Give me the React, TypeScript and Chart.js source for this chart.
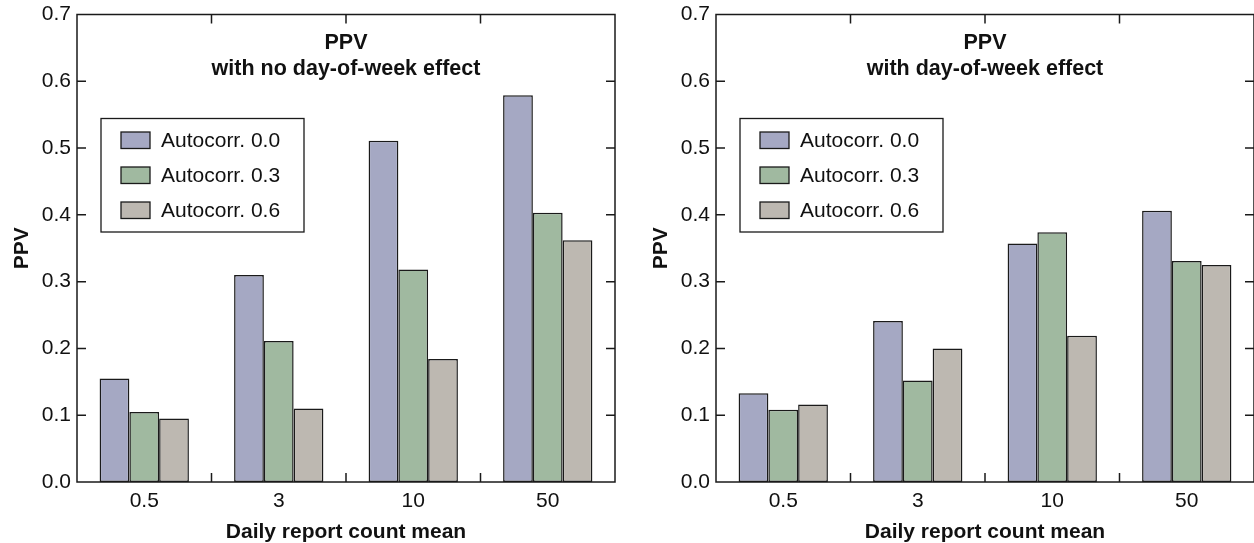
import React, { useEffect, useRef } from "react";
import { Chart, registerables } from "chart.js";

Chart.register(...registerables);

const categories = ["0.5", "3", "10", "50"];
const seriesLabels = ["Autocorr. 0.0", "Autocorr. 0.3", "Autocorr. 0.6"];
const seriesColors = ["#a5a8c3", "#a0b9a0", "#bdb8b1"];

const noDowAc00 = [0.155, 0.31, 0.511, 0.579];
const noDowAc03 = [0.105, 0.211, 0.318, 0.403];
const noDowAc06 = [0.095, 0.11, 0.184, 0.362];

const dowAc00 = [0.133, 0.241, 0.357, 0.406];
const dowAc03 = [0.108, 0.152, 0.374, 0.331];
const dowAc06 = [0.116, 0.2, 0.219, 0.325];

const yTickValues = [0, 0.1, 0.2, 0.3, 0.4, 0.5, 0.6, 0.7];

const titleLeft = ["PPV", "with no day-of-week effect"];
const titleRight = ["PPV", "with day-of-week effect"];

const FONT = "'Liberation Sans', Arial, Helvetica, sans-serif";
const INK = "#111111";

const framePlugin = {
  id: "frameTicks",
  afterDraw(chart: any) {
    const { ctx, chartArea } = chart;
    const { left, right, top, bottom } = chartArea;
    const ys = chart.scales.y;
    const xs = chart.scales.x;
    ctx.save();
    ctx.strokeStyle = "#1a1a1a";
    ctx.lineWidth = 1.5;
    ctx.strokeRect(left, top, right - left, bottom - top);
    const tl = 9;
    ctx.beginPath();
    yTickValues.slice(1, -1).forEach((v) => {
      const y = ys.getPixelForValue(v);
      ctx.moveTo(left, y);
      ctx.lineTo(left + tl, y);
      ctx.moveTo(right, y);
      ctx.lineTo(right - tl, y);
    });
    for (let i = 1; i < categories.length; i++) {
      const x = (xs.getPixelForValue(i - 1) + xs.getPixelForValue(i)) / 2;
      ctx.moveTo(x, top);
      ctx.lineTo(x, top + tl);
      ctx.moveTo(x, bottom);
      ctx.lineTo(x, bottom - tl);
    }
    ctx.stroke();
    ctx.restore();
  },
};

const innerTitlePlugin = {
  id: "innerTitle",
  afterDraw(chart: any, _args: any, opts: any) {
    const { ctx, chartArea } = chart;
    const cx = (chartArea.left + chartArea.right) / 2;
    const lines: string[] = opts.lines || [];
    ctx.save();
    ctx.fillStyle = INK;
    ctx.font = `bold 21.5px ${FONT}`;
    ctx.textAlign = "center";
    ctx.textBaseline = "middle";
    lines.forEach((t, i) => {
      ctx.fillText(t, cx, chartArea.top + 29 + i * 26);
    });
    ctx.restore();
  },
};

const innerLegendPlugin = {
  id: "innerLegend",
  afterDraw(chart: any) {
    const { ctx, chartArea } = chart;
    const bx = chartArea.left + 24;
    const by = chartArea.top + 104;
    const bw = 203;
    const bh = 113.5;
    ctx.save();
    ctx.fillStyle = "#ffffff";
    ctx.fillRect(bx, by, bw, bh);
    ctx.strokeStyle = "#1a1a1a";
    ctx.lineWidth = 1.3;
    ctx.strokeRect(bx, by, bw, bh);
    ctx.font = `21px ${FONT}`;
    ctx.textAlign = "left";
    ctx.textBaseline = "middle";
    chart.data.datasets.forEach((ds: any, i: number) => {
      const sy = by + 13.5 + i * 35;
      ctx.fillStyle = ds.backgroundColor;
      ctx.fillRect(bx + 20, sy, 29, 16.5);
      ctx.strokeStyle = "#1a1a1a";
      ctx.lineWidth = 1.3;
      ctx.strokeRect(bx + 20, sy, 29, 16.5);
      ctx.fillStyle = INK;
      ctx.fillText(ds.label, bx + 60, sy + 9);
    });
    ctx.restore();
  },
};

function PanelChart(props: {
  series: number[][];
  title: string[];
  padLeft: number;
  padRight: number;
}) {
  const ref = useRef<HTMLCanvasElement | null>(null);
  useEffect(() => {
    if (!ref.current) return;
    const chart = new Chart(ref.current, {
      type: "bar",
      data: {
        labels: categories,
        datasets: props.series.map((vals, i) => ({
          label: seriesLabels[i],
          data: vals,
          backgroundColor: seriesColors[i],
          borderColor: "#1a1a1a",
          borderWidth: 1.5,
          borderSkipped: false,
          categoryPercentage: 0.664,
          barPercentage: 1.0,
        })),
      },
      options: {
        responsive: false,
        maintainAspectRatio: false,
        animation: false,
        layout: {
          padding: { left: props.padLeft, right: props.padRight, top: 14.5, bottom: 0 },
        },
        plugins: {
          legend: { display: false },
          title: { display: false },
          tooltip: { enabled: false },
          innerTitle: { lines: props.title },
        } as any,
        scales: {
          x: {
            grid: { display: false, drawTicks: false },
            border: { display: false },
            ticks: {
              color: INK,
              font: { family: FONT, size: 21 },
              padding: 7,
            },
            title: {
              display: true,
              text: "Daily report count mean",
              color: INK,
              font: { family: FONT, size: 21, weight: "bold" },
              padding: { top: 0, bottom: -1.5 },
            },
            afterFit(scale: any) {
              scale.height = 61;
            },
          },
          y: {
            min: 0,
            max: 0.7,
            grid: { display: false, drawTicks: false },
            border: { display: false },
            ticks: {
              stepSize: 0.1,
              color: INK,
              font: { family: FONT, size: 21 },
              padding: 6,
              callback: (v: any) => Number(v).toFixed(1),
            },
            title: {
              display: true,
              text: "PPV",
              color: INK,
              font: { family: FONT, size: 21, weight: "bold" },
              padding: { top: 4, bottom: 4 },
            },
            afterFit(scale: any) {
              scale.width = 71;
              scale.paddingTop = 0;
              scale.paddingBottom = 0;
            },
          },
        },
      },
      plugins: [framePlugin, innerTitlePlugin, innerLegendPlugin],
    });
    return () => chart.destroy();
  }, []);
  return (
    <canvas
      ref={ref}
      width={627}
      height={543}
      style={{ width: 627, height: 543, display: "block" }}
    />
  );
}

export default function App() {
  return (
    <div
      style={{
        position: "absolute",
        left: 0,
        top: 0,
        width: 1254,
        height: 543,
        display: "flex",
        background: "#ffffff",
      }}
    >
      <PanelChart series={[noDowAc00, noDowAc03, noDowAc06]} title={titleLeft} padLeft={6} padRight={12} />
      <PanelChart series={[dowAc00, dowAc03, dowAc06]} title={titleRight} padLeft={18} padRight={0} />
    </div>
  );
}
